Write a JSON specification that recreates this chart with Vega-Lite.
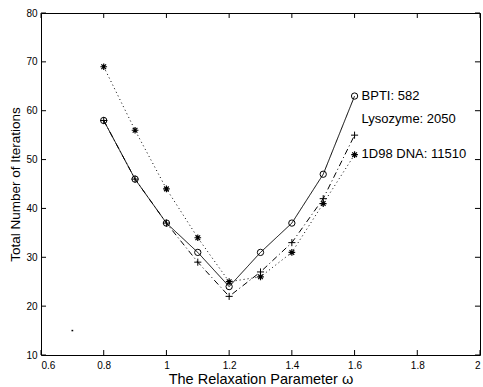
{
  "$schema": "https://vega.github.io/schema/vega-lite/v6.json",
  "width": 439,
  "height": 342,
  "autosize": {"type": "none"},
  "padding": {"left": 41, "top": 13, "right": 3, "bottom": 32},
  "background": "white",
  "config": {
    "view": {"stroke": "black", "strokeWidth": 1},
    "font": "Liberation Sans",
    "axis": {"domain": false, "ticks": false, "labelColor": "black", "titleColor": "black", "labelFont": "Liberation Sans", "titleFont": "Liberation Sans", "labelFontSize": 10, "titleFontWeight": "normal", "grid": false}
  },
  "datasets": {
    "xticks": [{"t": 0.6}, {"t": 0.8}, {"t": 1.0}, {"t": 1.2}, {"t": 1.4}, {"t": 1.6}, {"t": 1.8}, {"t": 2.0}],
    "yticks": [{"t": 10}, {"t": 20}, {"t": 30}, {"t": 40}, {"t": 50}, {"t": 60}, {"t": 70}, {"t": 80}]
  },
  "data": {"values": [
    {"series": "BPTI", "omega": 0.8, "iterations": 58},
    {"series": "BPTI", "omega": 0.9, "iterations": 46},
    {"series": "BPTI", "omega": 1.0, "iterations": 37},
    {"series": "BPTI", "omega": 1.1, "iterations": 31},
    {"series": "BPTI", "omega": 1.2, "iterations": 24},
    {"series": "BPTI", "omega": 1.3, "iterations": 31},
    {"series": "BPTI", "omega": 1.4, "iterations": 37},
    {"series": "BPTI", "omega": 1.5, "iterations": 47},
    {"series": "BPTI", "omega": 1.6, "iterations": 63},
    {"series": "Lysozyme", "omega": 0.8, "iterations": 58},
    {"series": "Lysozyme", "omega": 0.9, "iterations": 46},
    {"series": "Lysozyme", "omega": 1.0, "iterations": 37},
    {"series": "Lysozyme", "omega": 1.1, "iterations": 29},
    {"series": "Lysozyme", "omega": 1.2, "iterations": 22},
    {"series": "Lysozyme", "omega": 1.3, "iterations": 27},
    {"series": "Lysozyme", "omega": 1.4, "iterations": 33},
    {"series": "Lysozyme", "omega": 1.5, "iterations": 42},
    {"series": "Lysozyme", "omega": 1.6, "iterations": 55},
    {"series": "DNA", "omega": 0.8, "iterations": 69},
    {"series": "DNA", "omega": 0.9, "iterations": 56},
    {"series": "DNA", "omega": 1.0, "iterations": 44},
    {"series": "DNA", "omega": 1.1, "iterations": 34},
    {"series": "DNA", "omega": 1.2, "iterations": 25},
    {"series": "DNA", "omega": 1.3, "iterations": 26},
    {"series": "DNA", "omega": 1.4, "iterations": 31},
    {"series": "DNA", "omega": 1.5, "iterations": 41},
    {"series": "DNA", "omega": 1.6, "iterations": 51},
    {"series": "stray", "omega": 0.7, "iterations": 15},
    {"series": "label", "omega": 1.6, "iterations": 63, "text": "BPTI: 582"},
    {"series": "label", "omega": 1.6, "iterations": 58.4, "text": "Lysozyme: 2050"},
    {"series": "label", "omega": 1.6, "iterations": 51.1, "text": "1D98 DNA: 11510"}
  ]},
  "layer": [
    {
      "transform": [{"filter": "datum.series == 'BPTI' || datum.series == 'Lysozyme' || datum.series == 'DNA'"}],
      "mark": {"type": "line", "color": "black", "strokeWidth": 1},
      "encoding": {
        "x": {"field": "omega", "type": "quantitative", "scale": {"domain": [0.6, 2], "nice": false, "zero": false},
              "axis": {"orient": "bottom", "values": [0.6, 0.8, 1, 1.2, 1.4, 1.6, 1.8, 2], "format": "~g", "labelPadding": 5, "title": "The Relaxation Parameter ω", "titleFontSize": 14.5, "titlePadding": 2}},
        "y": {"field": "iterations", "type": "quantitative", "scale": {"domain": [10, 80], "nice": false, "zero": false},
              "axis": {"orient": "left", "values": [10, 20, 30, 40, 50, 60, 70, 80], "labelPadding": 4, "title": "Total Number of Iterations", "titleFontSize": 13.5, "titlePadding": 3}},
        "detail": {"field": "series"},
        "strokeDash": {"field": "series", "type": "nominal", "legend": null,
                       "scale": {"domain": ["BPTI", "Lysozyme", "DNA"], "range": [[1, 0], [6, 3, 1, 3], [1, 3]]}}
      }
    },
    {
      "transform": [{"filter": "datum.series == 'BPTI'"}],
      "mark": {"type": "point", "shape": "circle", "size": 40, "filled": false, "color": "black", "strokeWidth": 1, "opacity": 1},
      "encoding": {
        "x": {"field": "omega", "type": "quantitative"},
        "y": {"field": "iterations", "type": "quantitative"}
      }
    },
    {
      "transform": [{"filter": "datum.series == 'Lysozyme'"}],
      "mark": {"type": "point", "shape": "M-1,0H1M0,-1V1", "size": 50, "filled": false, "color": "black", "strokeWidth": 1, "opacity": 1},
      "encoding": {
        "x": {"field": "omega", "type": "quantitative"},
        "y": {"field": "iterations", "type": "quantitative"}
      }
    },
    {
      "transform": [{"filter": "datum.series == 'DNA'"}],
      "mark": {"type": "point", "shape": "M-1,0H1M0,-1V1M-0.7,-0.7L0.7,0.7M-0.7,0.7L0.7,-0.7", "size": 45, "filled": false, "color": "black", "strokeWidth": 1.2, "opacity": 1},
      "encoding": {
        "x": {"field": "omega", "type": "quantitative"},
        "y": {"field": "iterations", "type": "quantitative"}
      }
    },
    {
      "transform": [{"filter": "datum.series == 'stray'"}],
      "mark": {"type": "point", "shape": "M-1,0H1", "size": 3, "filled": false, "color": "black", "strokeWidth": 1.5, "opacity": 1},
      "encoding": {
        "x": {"field": "omega", "type": "quantitative"},
        "y": {"field": "iterations", "type": "quantitative"}
      }
    },
    {
      "transform": [{"filter": "datum.series == 'label'"}],
      "mark": {"type": "text", "align": "left", "baseline": "middle", "dx": 7, "fontSize": 13, "font": "Liberation Sans", "color": "black"},
      "encoding": {
        "x": {"field": "omega", "type": "quantitative"},
        "y": {"field": "iterations", "type": "quantitative"},
        "text": {"field": "text"}
      }
    },
    {
      "data": {"name": "xticks"},
      "mark": {"type": "rule", "color": "black", "strokeWidth": 1, "opacity": 1},
      "encoding": {
        "x": {"field": "t", "type": "quantitative"},
        "y": {"datum": 10, "type": "quantitative"},
        "y2": {"datum": 11.02}
      }
    },
    {
      "data": {"name": "xticks"},
      "mark": {"type": "rule", "color": "black", "strokeWidth": 1, "opacity": 1},
      "encoding": {
        "x": {"field": "t", "type": "quantitative"},
        "y": {"datum": 80, "type": "quantitative"},
        "y2": {"datum": 78.98}
      }
    },
    {
      "data": {"name": "yticks"},
      "mark": {"type": "rule", "color": "black", "strokeWidth": 1, "opacity": 1},
      "encoding": {
        "y": {"field": "t", "type": "quantitative"},
        "x": {"datum": 0.6, "type": "quantitative"},
        "x2": {"datum": 0.616}
      }
    },
    {
      "data": {"name": "yticks"},
      "mark": {"type": "rule", "color": "black", "strokeWidth": 1, "opacity": 1},
      "encoding": {
        "y": {"field": "t", "type": "quantitative"},
        "x": {"datum": 2, "type": "quantitative"},
        "x2": {"datum": 1.984}
      }
    }
  ]
}
